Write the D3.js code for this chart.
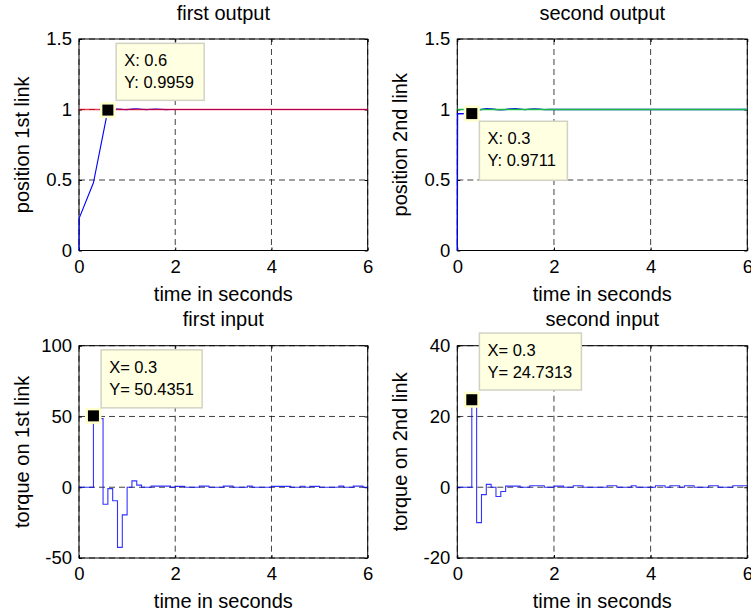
<!DOCTYPE html>
<html>
<head>
<meta charset="utf-8">
<script src="https://cdn.jsdelivr.net/npm/d3@7/dist/d3.min.js"></script>
<style>
body { margin: 0; background: #fff; }
svg { display: block; font-family: "Liberation Sans", Arial, sans-serif; }
.axis path { display: none; }
.axis line { stroke: #000; }
.axis text { font-size: 18.5px; fill: #000; }
.grid line { stroke: #000; stroke-opacity: 0.75; stroke-dasharray: 6,4; }
.title, .xlabel, .ylabel { font-size: 20px; fill: #000; }
.tip text { font-size: 16.5px; fill: #000; }
</style>
</head>
<body>
<div id="chart"></div>
<script>

var xTicks = [0, 2, 4, 6];

// first output: position of link 1 and its reference
var out1Time = [0, 0.005, 0.3, 0.6, 0.7, 0.8, 0.9, 1.0, 1.1, 1.2, 1.3, 1.4, 1.5, 1.6, 1.7, 1.8, 1.9, 2.0, 6.0];
var out1Pos  = [0, 0.23, 0.48, 0.9959, 1.003, 1.004, 1.001, 0.999, 1.003, 1.005, 1.002, 0.999, 1.002, 1.004, 1.002, 0.999, 1.0, 1.0, 1.0];
var refTime  = [0, 6];
var ref1     = [1, 1];

// second output: position of link 2 and its reference
var out2Time = [0, 0.005, 0.3, 0.4, 0.5, 0.6, 0.7, 0.8, 0.9, 1.0, 1.1, 1.2, 1.3, 1.4, 1.5, 1.6, 1.7, 1.8, 1.9, 2.0, 6.0];
var out2Pos  = [0, 0.97, 0.9711, 0.99, 1.0, 1.006, 1.005, 1.0, 0.998, 1.0, 1.005, 1.006, 1.003, 0.999, 1.002, 1.005, 1.003, 0.999, 1.0, 1.0, 1.0];
var ref2     = [1, 1];

// inputs are held constant over each 0.1 s sample
var inTime = [0, 0.1, 0.2, 0.3, 0.4, 0.5, 0.6, 0.7, 0.8, 0.9,
    1.0, 1.1, 1.2, 1.3, 1.4, 1.5, 1.6, 1.7, 1.8, 1.9,
    2.0, 2.1, 2.2, 2.3, 2.4, 2.5, 2.6, 2.7, 2.8, 2.9,
    3.0, 3.1, 3.2, 3.3, 3.4, 3.5, 3.6, 3.7, 3.8, 3.9,
    4.0, 4.1, 4.2, 4.3, 4.4, 4.5, 4.6, 4.7, 4.8, 4.9,
    5.0, 5.1, 5.2, 5.3, 5.4, 5.5, 5.6, 5.7, 5.8, 5.9,
    6.0];
var in1Torque = [0, 0, 0, 50.4351, 48.5, -12, -1, -9.5, -42.5, -19.5,
    0, 4.5, 1.5, 0, 0, 0.8, 0.8, 0.8, 0.8, 0,
    0.6, 0.6, 0, 0, 0, 0.8, 0.8, 0, 0, 0,
    0.8, 0.8, 0, 0, 0, 0.8, 0, 0, 0, 0,
    0.6, 0.6, 0.6, 0.6, 0, 0, 0.7, 0, 0.6, 0.6,
    0, 0, 0, 0, 0.8, 0, 0, 0.8, 0.8, 0,
    0];
var in2Torque = [0, 0, 0, 24.7313, -10, -2.1, 0.8, 0, -2.6, -1.2,
    0.3, 0.3, 0.3, 0, 0, 0.4, 0.4, 0.4, 0, 0,
    0.3, 0.3, 0, 0, 0.4, 0.4, 0, 0, 0, 0,
    0, 0.4, 0.4, 0, 0, 0, 0.4, 0, 0, 0,
    0, 0.4, 0.4, 0, 0.4, 0.4, 0, 0.4, 0.4, 0,
    0, 0, 0.4, 0.4, 0, 0, 0, 0.4, 0.4, 0.4,
    0.4];

var panels = [
    { title: "first output", ylabel: "position 1st link",
      left: 79, top: 39, right: 367.7, bottom: 250.5,
      yDomain: [0, 1.5], yTicks: [0, 0.5, 1, 1.5],
      series: [
          { t: out1Time, v: out1Pos, color: "#0000ff", opacity: 1, width: 1.1, curve: d3.curveLinear },
          { t: refTime, v: ref1, color: "#e8001c", opacity: 0.75, width: 1.7, curve: d3.curveLinear }
      ],
      tip: { x: 0.6, y: 0.9959, text: ["X: 0.6", "Y: 0.9959"], dx: 8.3, dy: -66.7, w: 88, h: 57 } },
    { title: "second output", ylabel: "position 2nd link",
      left: 457.3, top: 39, right: 747.3, bottom: 250.5,
      yDomain: [0, 1.5], yTicks: [0, 0.5, 1, 1.5],
      series: [
          { t: out2Time, v: out2Pos, color: "#0000ff", opacity: 1, width: 1.3, curve: d3.curveLinear },
          { t: refTime, v: ref2, color: "#1cc23a", opacity: 0.95, width: 1.7, curve: d3.curveLinear }
      ],
      tip: { x: 0.3, y: 0.9711, text: ["X: 0.3", "Y: 0.9711"], dx: 7.6, dy: 7.7, w: 88, h: 59 } },
    { title: "first input", ylabel: "torque on 1st link",
      left: 79, top: 345.7, right: 367.7, bottom: 558,
      yDomain: [-50, 100], yTicks: [-50, 0, 50, 100],
      series: [
          { t: inTime, v: in1Torque, color: "#0000ff", opacity: 0.8, width: 1.1, curve: d3.curveStepAfter }
      ],
      tip: { x: 0.3, y: 50.4351, text: ["X= 0.3", "Y= 50.4351"], dx: 7.7, dy: -66, w: 101, h: 58 } },
    { title: "second input", ylabel: "torque on 2nd link",
      left: 457.3, top: 345.7, right: 747.3, bottom: 558,
      yDomain: [-20, 40], yTicks: [-20, 0, 20, 40],
      series: [
          { t: inTime, v: in2Torque, color: "#0000ff", opacity: 0.8, width: 1.1, curve: d3.curveStepAfter }
      ],
      tip: { x: 0.3, y: 24.7313, text: ["X= 0.3", "Y= 24.7313"], dx: 7.6, dy: -66.7, w: 102, h: 57 } }
];

var svg = d3.select("#chart").append("svg")
    .attr("width", 751)
    .attr("height", 616);

LinePanel = function(_svg, _cfg){
    this.svg = _svg;
    this.cfg = _cfg;
    this.initVis();
}

LinePanel.prototype.initVis = function(){
    var vis = this;
    var c = vis.cfg;

    vis.width = c.right - c.left;
    vis.height = c.bottom - c.top;

    vis.g = vis.svg.append("g")
        .attr("transform", "translate(" + c.left + "," + c.top + ")");

    vis.x = d3.scaleLinear()
        .domain([0, 6])
        .range([0, vis.width]);

    vis.y = d3.scaleLinear()
        .domain(c.yDomain)
        .range([vis.height, 0]);

    vis.updateVis();
}

LinePanel.prototype.updateVis = function(){
    var vis = this;
    var c = vis.cfg;
    var fmt = function(d){ return String(d); };

    // dashed grid
    var grid = vis.g.append("g").attr("class", "grid");
    grid.selectAll(".gx").data(xTicks).enter().append("line")
        .attr("x1", function(d){ return vis.x(d); })
        .attr("x2", function(d){ return vis.x(d); })
        .attr("y1", 0)
        .attr("y2", vis.height);
    grid.selectAll(".gy").data(c.yTicks).enter().append("line")
        .attr("x1", 0)
        .attr("x2", vis.width)
        .attr("y1", function(d){ return vis.y(d); })
        .attr("y2", function(d){ return vis.y(d); });

    // box
    vis.g.append("rect")
        .attr("width", vis.width)
        .attr("height", vis.height)
        .attr("fill", "none")
        .attr("stroke", "#000")
        .attr("stroke-width", 1);

    // ticks point inwards on all four sides
    vis.g.append("g")
        .attr("class", "axis")
        .attr("transform", "translate(0," + vis.height + ")")
        .call(d3.axisBottom(vis.x).tickValues(xTicks).tickSize(-3).tickPadding(9).tickFormat(fmt));
    vis.g.append("g")
        .attr("class", "axis")
        .call(d3.axisLeft(vis.y).tickValues(c.yTicks).tickSize(-3).tickPadding(7).tickFormat(fmt));
    vis.g.append("g")
        .attr("class", "axis")
        .call(d3.axisTop(vis.x).tickValues(xTicks).tickSize(-3).tickFormat(""));
    vis.g.append("g")
        .attr("class", "axis")
        .attr("transform", "translate(" + vis.width + ",0)")
        .call(d3.axisRight(vis.y).tickValues(c.yTicks).tickSize(-3).tickFormat(""));

    // data lines
    c.series.forEach(function(s){
        var line = d3.line()
            .x(function(d, i){ return vis.x(s.t[i]); })
            .y(function(d){ return vis.y(d); })
            .curve(s.curve);
        vis.g.append("path")
            .attr("class", "series")
            .datum(s.v)
            .attr("d", line)
            .style("fill", "none")
            .style("stroke", s.color)
            .style("stroke-opacity", s.opacity)
            .style("stroke-width", s.width);
    });

    // labels
    vis.g.append("text")
        .attr("class", "title")
        .attr("x", vis.width / 2)
        .attr("y", -19.5)
        .attr("text-anchor", "middle")
        .text(c.title);
    vis.g.append("text")
        .attr("class", "xlabel")
        .attr("x", vis.width / 2)
        .attr("y", vis.height + 50)
        .attr("text-anchor", "middle")
        .text("time in seconds");
    vis.g.append("text")
        .attr("class", "ylabel")
        .attr("transform", "translate(-50," + (vis.height / 2) + ") rotate(-90)")
        .attr("text-anchor", "middle")
        .text(c.ylabel);

    // data tip
    var mx = vis.x(c.tip.x), my = vis.y(c.tip.y);
    vis.g.append("rect")
        .attr("x", mx - 8).attr("y", my - 8)
        .attr("width", 16).attr("height", 16)
        .attr("fill", "#ffffcc");
    vis.g.append("rect")
        .attr("x", mx - 5.5).attr("y", my - 5.5)
        .attr("width", 11).attr("height", 11)
        .attr("fill", "#000");

    var tip = vis.g.append("g")
        .attr("class", "tip")
        .attr("transform", "translate(" + (mx + c.tip.dx) + "," + (my + c.tip.dy) + ")");
    tip.append("rect")
        .attr("width", c.tip.w)
        .attr("height", c.tip.h)
        .attr("fill", "#ffffe1")
        .attr("stroke", "#d2d2c4")
        .attr("stroke-width", 1.5);
    tip.selectAll("text").data(c.tip.text).enter().append("text")
        .attr("x", 8)
        .attr("y", function(d, i){ return 23 + i * 22; })
        .text(function(d){ return d; });
}

panels.forEach(function(p){
    new LinePanel(svg, p);
});

</script>
</body>
</html>
